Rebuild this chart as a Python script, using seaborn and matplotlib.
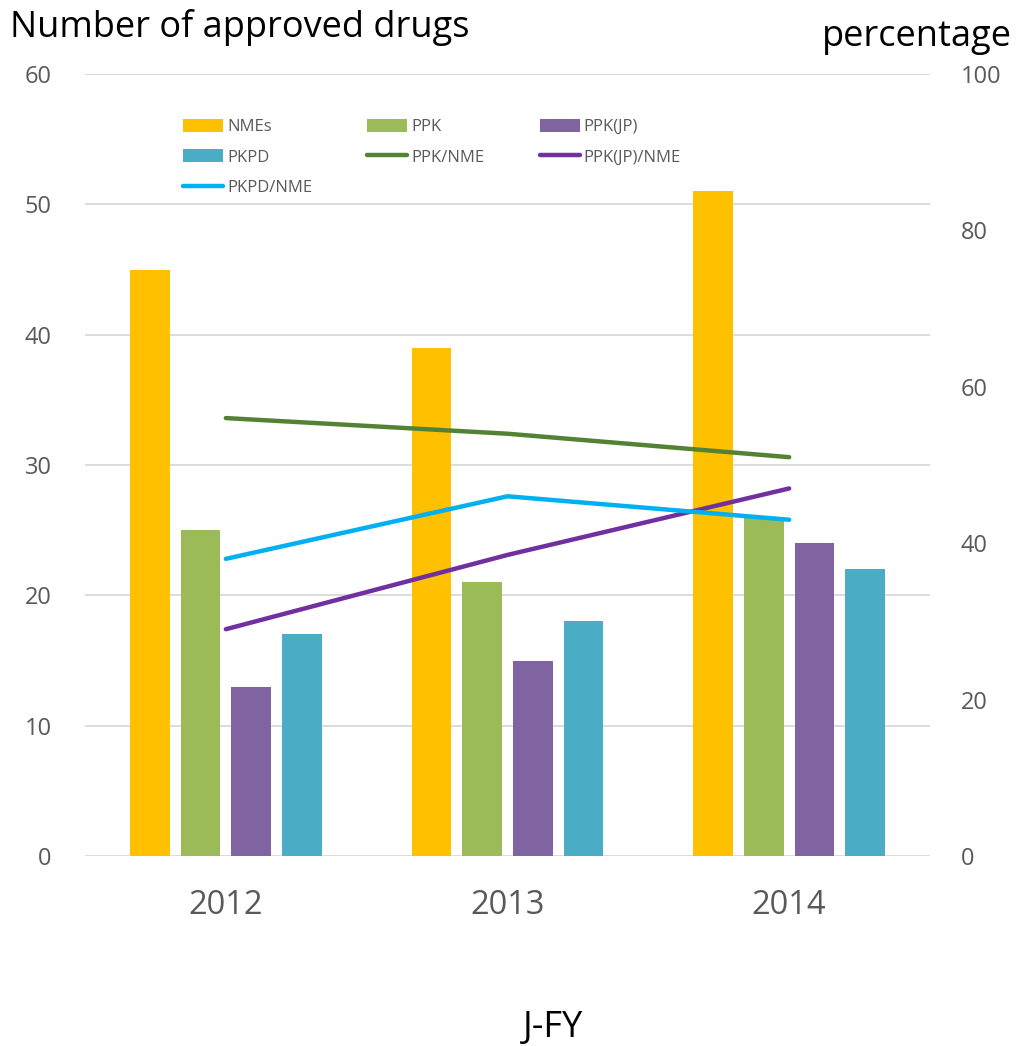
import matplotlib
matplotlib.use("Agg")
import matplotlib.pyplot as plt
from matplotlib.patches import Patch
from matplotlib.lines import Line2D
import seaborn as sns
import pandas as pd
import numpy as np

# ---- data ----
years = ["2012", "2013", "2014"]
nmes = [45, 39, 51]
ppk = [25, 21, 26]
ppk_jp = [13, 15, 24]
pkpd = [17, 18, 22]
ppk_per_nme = [56.0, 54.0, 51.0]
ppkjp_per_nme = [29.0, 38.5, 47.0]
pkpd_per_nme = [38.0, 46.0, 43.0]

bar_names = ["NMEs", "PPK", "PPK(JP)", "PKPD"]
bar_values = [nmes, ppk, ppk_jp, pkpd]
bar_colors = ["#FFC000", "#9BBB59", "#8064A2", "#4BACC6"]
line_names = ["PPK/NME", "PPK(JP)/NME", "PKPD/NME"]
line_values = [ppk_per_nme, ppkjp_per_nme, pkpd_per_nme]
line_colors = ["#548235", "#7030A0", "#00B0F0"]

rows = []
for name, vals in zip(bar_names, bar_values):
    for y, v in zip(years, vals):
        rows.append({"year": y, "series": name, "value": v})
df = pd.DataFrame(rows)

sns.set_theme(style="white")
plt.rcParams["font.family"] = ["Open Sans", "DejaVu Sans"]

W, H = 1016, 1046
fig = plt.figure(figsize=(W / 100, H / 100), dpi=100)
ax = fig.add_axes([85 / W, 1 - 856 / H, (930 - 85) / W, (856 - 74) / H])

sns.barplot(data=df, x="year", y="value", hue="series", hue_order=bar_names,
            palette=bar_colors, width=0.72, gap=0.22, saturation=1,
            linewidth=0, legend=False, ax=ax)

ax2 = ax.twinx()
xpos = np.arange(len(years))
for name, vals, c in zip(line_names, line_values, line_colors):
    sns.lineplot(x=xpos, y=vals, color=c, linewidth=3.2, ax=ax2,
                 solid_capstyle="round")

gray = "#595959"
ax.set_xlim(-0.5, 2.5)
ax.set_ylim(0, 60)
ax2.set_ylim(0, 100)
ax.set_yticks(range(0, 61, 10))
ax2.set_yticks(range(0, 101, 20))
ax.yaxis.grid(True, color="#D9D9D9", linewidth=1.3)
ax.set_axisbelow(True)
for a in (ax, ax2):
    for s in a.spines.values():
        s.set_visible(False)
    a.set_xlabel("")
    a.set_ylabel("")
ax.tick_params(axis="y", length=0, pad=24, labelsize=17, labelcolor=gray)
ax2.tick_params(axis="y", length=0, pad=22, labelsize=17, labelcolor=gray)
ax.tick_params(axis="x", length=0, pad=24, labelsize=23.5, labelcolor=gray)

fig.text(10 / W, 1 - 27 / H, "Number of approved drugs", ha="left", va="center",
         fontsize=26, color="black")
fig.text(1012 / W, 1 - 37 / H, "percentage", ha="right", va="center",
         fontsize=26, color="black")
fig.text(553 / W, 1 - 1028 / H, "J-FY", ha="center", va="center",
         fontsize=26, color="black")

def bar_handle(i):
    return Patch(facecolor=bar_colors[i], edgecolor="none")

def line_handle(i):
    return Line2D([0], [0], color=line_colors[i], linewidth=3.2, solid_capstyle="round")

handles = [bar_handle(0), bar_handle(3), line_handle(2),
           bar_handle(1), line_handle(0),
           bar_handle(2), line_handle(1)]
labels = ["NMEs", "PKPD", "PKPD/NME", "PPK", "PPK/NME", "PPK(JP)", "PPK(JP)/NME"]
leg = ax.legend(handles, labels, ncol=3, loc="upper left",
                bbox_to_anchor=(183 / W, 1 - 119 / H), bbox_transform=fig.transFigure,
                frameon=False, fontsize=12, handlelength=2.4, handleheight=0.8,
                handletextpad=0.25, columnspacing=3.3, labelspacing=0.85,
                borderpad=0, borderaxespad=0)
for t in leg.get_texts():
    t.set_color(gray)

fig.savefig("out.png", dpi=100)
